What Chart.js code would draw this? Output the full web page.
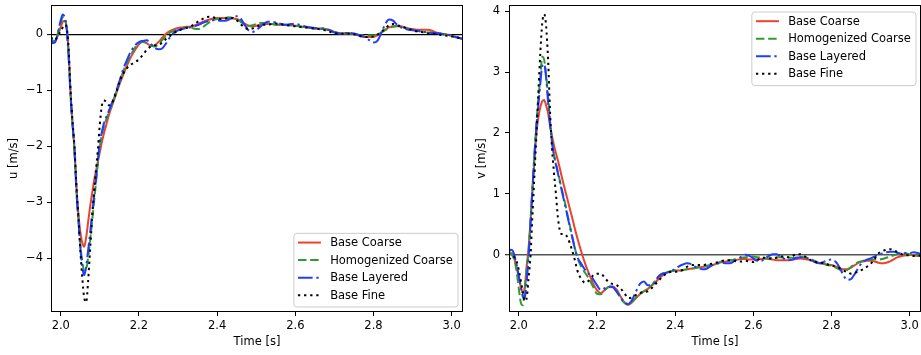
<!DOCTYPE html>
<html><head><meta charset="utf-8">
<script src="https://cdn.jsdelivr.net/npm/chart.js@4.4.1/dist/chart.umd.min.js"></script>
<style>
html,body{margin:0;padding:0;background:#fff;}
#wrap{position:relative;width:921px;height:355px;overflow:hidden;background:#fff;}
canvas{position:absolute;top:0;}
</style></head><body>
<div id="wrap">
<canvas id="cu" width="470" height="355" style="left:0px"></canvas>
<canvas id="cv" width="451" height="355" style="left:470px"></canvas>
</div>
<script>
// ---------- data ----------
const TIME = [
1.975,1.98,1.985,1.99,1.995,2.0,2.005,2.01,2.015,2.02,
2.025,2.03,2.035,2.04,2.045,2.05,2.055,2.06,2.065,2.07,
2.075,2.08,2.085,2.09,2.095,2.1,2.105,2.11,2.115,2.12,
2.125,2.13,2.135,2.14,2.145,2.15,
2.16,2.17,2.18,2.19,2.2,2.21,2.22,2.23,2.24,2.25,
2.26,2.27,2.28,2.29,2.3,2.31,2.32,2.33,2.34,2.35,
2.36,2.37,2.38,2.39,2.4,2.41,2.42,2.43,2.44,2.45,
2.46,2.47,2.48,2.49,2.5,2.51,2.52,2.53,2.54,2.55,
2.56,2.57,2.58,2.59,2.6,2.61,2.62,2.63,2.64,2.65,
2.66,2.67,2.68,2.69,2.7,2.71,2.72,2.73,2.74,2.75,
2.76,2.77,2.78,2.79,2.8,2.81,2.82,2.83,2.84,2.85,
2.86,2.87,2.88,2.89,2.9,2.91,2.92,2.93,2.94,2.95,
2.96,2.97,2.98,2.99,3.0,3.01,3.02,3.03];

const SERIES_LABELS = ['Base Coarse','Homogenized Coarse','Base Layered','Base Fine'];

// u [m/s]
const U_BASE_COARSE = [
-0.05,-0.12,-0.13,-0.07,0.03,0.13,0.22,0.24,0.12,-0.30,
-1.05,-1.60,-2.05,-2.70,-3.20,-3.52,-3.72,-3.79,-3.62,-3.35,
-3.08,-2.85,-2.62,-2.45,-2.27,-2.10,-1.93,-1.78,-1.65,-1.52,
-1.40,-1.30,-1.20,-1.10,-1.00,-0.90,
-0.72,-0.55,-0.40,-0.28,-0.18,-0.13,-0.16,-0.21,-0.20,-0.14,
-0.06,0.01,0.06,0.09,0.11,0.12,0.13,0.13,0.15,0.18,
0.21,0.24,0.26,0.28,0.29,0.29,0.29,0.28,0.28,0.27,
0.24,0.19,0.15,0.14,0.15,0.17,0.18,0.18,0.18,0.17,
0.17,0.17,0.16,0.16,0.15,0.14,0.13,0.12,0.11,0.10,
0.10,0.10,0.09,0.07,0.04,0.02,0.01,0.01,0.01,0.00,
-0.02,-0.04,-0.05,-0.05,-0.05,-0.02,0.03,0.08,0.12,0.14,
0.15,0.14,0.12,0.10,0.09,0.08,0.08,0.08,0.08,0.06,
0.03,0.01,0.00,-0.01,-0.03,-0.05,-0.07,-0.09];
const U_HOMOG_COARSE = [
-0.05,-0.13,-0.12,-0.04,0.08,0.20,0.30,0.28,0.12,-0.35,
-1.05,-1.60,-2.05,-2.78,-3.28,-3.75,-4.05,-4.22,-4.20,-3.98,
-3.68,-3.35,-3.00,-2.65,-2.30,-2.00,-1.80,-1.66,-1.55,-1.45,
-1.36,-1.27,-1.17,-1.07,-0.97,-0.87,
-0.66,-0.50,-0.36,-0.24,-0.16,-0.14,-0.16,-0.20,-0.22,-0.18,
-0.10,-0.03,0.03,0.06,0.08,0.10,0.12,0.12,0.10,0.09,
0.11,0.16,0.21,0.25,0.27,0.28,0.29,0.30,0.29,0.27,
0.22,0.17,0.15,0.16,0.18,0.20,0.20,0.19,0.18,0.17,
0.17,0.17,0.17,0.16,0.15,0.14,0.13,0.12,0.11,0.10,
0.09,0.09,0.08,0.06,0.04,0.02,0.01,0.01,0.01,0.00,
-0.01,-0.02,-0.03,-0.02,-0.02,0.00,0.03,0.07,0.11,0.13,
0.14,0.13,0.11,0.09,0.07,0.06,0.05,0.04,0.03,0.03,
0.02,0.01,0.00,-0.01,-0.03,-0.05,-0.07,-0.08];
const U_BASE_LAYERED = [
-0.08,-0.16,-0.15,-0.05,0.10,0.25,0.35,0.30,0.10,-0.40,
-1.10,-1.60,-2.05,-2.80,-3.30,-3.80,-4.15,-4.30,-4.15,-3.85,
-3.55,-3.22,-2.90,-2.60,-2.25,-1.92,-1.75,-1.60,-1.50,-1.42,
-1.33,-1.24,-1.15,-1.05,-0.95,-0.84,
-0.62,-0.45,-0.30,-0.20,-0.14,-0.12,-0.11,-0.17,-0.24,-0.27,
-0.25,-0.16,-0.05,0.03,0.07,0.09,0.11,0.12,0.14,0.16,
0.19,0.22,0.24,0.25,0.25,0.24,0.24,0.26,0.30,0.32,
0.28,0.17,0.07,0.04,0.07,0.13,0.19,0.22,0.22,0.21,
0.19,0.17,0.17,0.18,0.18,0.17,0.15,0.13,0.12,0.11,
0.10,0.10,0.09,0.06,0.03,0.01,0.01,0.02,0.02,0.01,
-0.01,-0.03,-0.06,-0.11,-0.15,-0.12,0.02,0.18,0.26,0.24,
0.17,0.12,0.10,0.08,0.07,0.06,0.05,0.04,0.03,0.02,
0.02,0.01,0.00,-0.01,-0.03,-0.05,-0.07,-0.09];
const U_BASE_FINE = [
-0.05,-0.10,-0.10,-0.06,0.00,0.06,0.12,0.17,0.12,-0.25,
-1.00,-1.55,-2.00,-2.70,-3.25,-3.85,-4.35,-4.70,-4.78,-4.40,
-3.85,-3.30,-2.82,-2.42,-2.05,-1.60,-1.28,-1.18,-1.20,-1.25,
-1.27,-1.24,-1.17,-1.07,-0.97,-0.85,
-0.70,-0.60,-0.54,-0.50,-0.45,-0.37,-0.28,-0.22,-0.20,-0.19,
-0.15,-0.08,-0.03,0.02,0.06,0.09,0.11,0.13,0.17,0.22,
0.26,0.30,0.31,0.30,0.28,0.27,0.28,0.29,0.29,0.25,
0.18,0.12,0.09,0.10,0.13,0.16,0.17,0.17,0.18,0.19,
0.18,0.17,0.16,0.15,0.14,0.13,0.12,0.12,0.11,0.10,
0.09,0.08,0.06,0.04,0.02,0.01,0.01,0.01,0.01,0.00,
-0.02,-0.04,-0.05,-0.05,-0.04,-0.01,0.04,0.10,0.16,0.18,
0.16,0.14,0.12,0.10,0.07,0.05,0.04,0.03,0.01,0.01,
0.00,-0.01,-0.02,-0.03,-0.04,-0.05,-0.07,-0.09];

// v [m/s]
const V_BASE_COARSE = [
0.02,0.03,0.00,-0.10,-0.22,-0.38,-0.52,-0.62,-0.55,-0.20,
0.10,0.55,1.05,1.55,1.98,2.25,2.42,2.52,2.54,2.45,
2.32,2.12,1.95,1.80,1.67,1.55,1.42,1.28,1.15,1.02,
0.90,0.77,0.65,0.52,0.39,0.27,
0.05,-0.15,-0.32,-0.47,-0.58,-0.63,-0.58,-0.53,-0.52,-0.57,
-0.68,-0.78,-0.82,-0.78,-0.71,-0.65,-0.60,-0.56,-0.51,-0.45,
-0.38,-0.33,-0.29,-0.27,-0.26,-0.26,-0.25,-0.24,-0.23,-0.22,
-0.21,-0.20,-0.19,-0.18,-0.16,-0.14,-0.12,-0.11,-0.10,-0.09,
-0.08,-0.07,-0.07,-0.08,-0.08,-0.08,-0.07,-0.06,-0.07,-0.08,
-0.09,-0.09,-0.09,-0.09,-0.08,-0.07,-0.06,-0.07,-0.08,-0.10,
-0.12,-0.14,-0.15,-0.16,-0.17,-0.19,-0.22,-0.24,-0.24,-0.21,
-0.17,-0.13,-0.11,-0.10,-0.10,-0.11,-0.13,-0.14,-0.13,-0.11,
-0.07,-0.04,-0.02,-0.01,0.00,-0.01,-0.02,-0.01];
const V_HOMOG_COARSE = [
0.00,0.02,-0.03,-0.12,-0.30,-0.55,-0.78,-0.83,-0.60,-0.25,
0.05,0.55,1.10,1.65,2.15,2.55,2.90,3.25,3.20,2.95,
2.60,2.20,1.88,1.65,1.50,1.36,1.22,1.08,0.94,0.80,
0.65,0.50,0.35,0.20,0.07,-0.05,
-0.20,-0.30,-0.40,-0.52,-0.64,-0.65,-0.58,-0.53,-0.54,-0.60,
-0.70,-0.79,-0.82,-0.77,-0.70,-0.64,-0.60,-0.56,-0.50,-0.42,
-0.34,-0.30,-0.28,-0.27,-0.26,-0.26,-0.25,-0.24,-0.23,-0.22,
-0.20,-0.19,-0.18,-0.17,-0.15,-0.13,-0.11,-0.10,-0.09,-0.08,
-0.06,-0.05,-0.04,-0.03,-0.03,-0.04,-0.05,-0.06,-0.06,-0.05,
-0.04,-0.04,-0.05,-0.05,-0.05,-0.05,-0.04,-0.04,-0.06,-0.08,
-0.11,-0.14,-0.15,-0.17,-0.18,-0.21,-0.24,-0.26,-0.25,-0.20,
-0.15,-0.12,-0.10,-0.08,-0.08,-0.08,-0.08,-0.07,-0.05,-0.03,
-0.01,0.01,0.02,0.02,0.01,0.00,-0.01,-0.01];
const V_BASE_LAYERED = [
0.05,0.08,0.06,-0.04,-0.18,-0.35,-0.52,-0.68,-0.72,-0.45,
-0.05,0.50,1.10,1.62,2.10,2.45,2.80,3.10,3.13,2.90,
2.50,2.15,1.85,1.63,1.48,1.34,1.20,1.05,0.91,0.77,
0.62,0.48,0.34,0.20,0.06,-0.04,
-0.15,-0.25,-0.32,-0.40,-0.50,-0.58,-0.55,-0.52,-0.53,-0.60,
-0.70,-0.78,-0.81,-0.74,-0.60,-0.48,-0.44,-0.50,-0.50,-0.42,
-0.34,-0.31,-0.29,-0.27,-0.23,-0.19,-0.16,-0.14,-0.15,-0.19,
-0.22,-0.24,-0.23,-0.19,-0.16,-0.14,-0.13,-0.14,-0.14,-0.11,
-0.07,-0.03,0.00,-0.02,-0.06,-0.10,-0.10,-0.06,-0.02,0.01,
0.01,-0.03,-0.07,-0.09,-0.08,-0.05,-0.04,-0.04,-0.06,-0.09,
-0.13,-0.14,-0.12,-0.09,-0.08,-0.11,-0.20,-0.33,-0.41,-0.40,
-0.31,-0.20,-0.12,-0.08,-0.06,-0.03,0.00,0.02,0.04,0.05,
0.05,0.03,0.02,0.03,0.03,0.04,0.03,0.01];
const V_BASE_FINE = [
-0.08,-0.05,-0.02,-0.05,-0.12,-0.25,-0.42,-0.60,-0.76,-0.72,
-0.38,-0.02,0.65,1.30,1.95,2.65,3.30,3.80,3.95,3.75,
3.20,2.35,1.75,1.35,1.00,0.62,0.40,0.34,0.34,0.33,
0.28,0.20,0.10,0.00,-0.13,-0.26,
-0.40,-0.46,-0.42,-0.34,-0.31,-0.31,-0.38,-0.45,-0.48,-0.50,
-0.55,-0.63,-0.71,-0.70,-0.66,-0.63,-0.61,-0.60,-0.55,-0.48,
-0.41,-0.35,-0.30,-0.28,-0.28,-0.27,-0.25,-0.20,-0.17,-0.17,
-0.17,-0.17,-0.16,-0.15,-0.14,-0.12,-0.10,-0.09,-0.09,-0.10,
-0.11,-0.11,-0.10,-0.11,-0.12,-0.09,-0.05,-0.05,-0.06,-0.06,
-0.05,-0.03,-0.03,-0.04,-0.02,0.01,0.01,-0.02,-0.06,-0.10,
-0.12,-0.13,-0.14,-0.16,-0.17,-0.20,-0.22,-0.26,-0.28,-0.31,
-0.30,-0.27,-0.24,-0.20,-0.15,-0.07,0.02,0.06,0.08,0.09,
0.07,0.04,0.01,-0.01,-0.01,-0.02,-0.02,-0.01];

const X_TICKS = [2.0, 2.2, 2.4, 2.6, 2.8, 3.0];
const U_TICKS = [-4, -3, -2, -1, 0];
const V_TICKS = [0, 1, 2, 3, 4];

// ---------- styling ----------
const X_LIM = [1.975, 3.029];
const U_LIM = [-4.955, 0.52];
const V_LIM = [-0.94, 4.1];
const FS = 11.5;
const FAMILY = "'DejaVu Sans', sans-serif";
const FONT = {family: FAMILY, size: FS, lineHeight: 1.2};
const STYLES = [
  {color: '#eb412d', dash: []},
  {color: '#339a33', dash: [8.5, 3.7]},
  {color: '#1f3cff', dash: [14.7, 3.7, 2.3, 3.7]},
  {color: '#000000', dash: [2.3, 3.8]}
];

[U_BASE_COARSE,U_HOMOG_COARSE,U_BASE_LAYERED,U_BASE_FINE,V_BASE_COARSE,V_HOMOG_COARSE,V_BASE_LAYERED,V_BASE_FINE].forEach((a,i)=>{
  if (a.length !== TIME.length) throw new Error('series ' + i + ' length ' + a.length + ' vs ' + TIME.length);
});

const mplPlugin = {
  id: 'mpl',
  afterDatasetsDraw(chart) {
    const ctx = chart.ctx, a = chart.chartArea;
    const opts = chart.options.plugins.mpl || {};
    ctx.save();
    // frame (spines)
    ctx.strokeStyle = '#000'; ctx.lineWidth = 1; ctx.setLineDash([]);
    const L = Math.round(a.left) + 0.5, R = Math.round(a.right) - 0.5;
    const T = Math.round(a.top) + 0.5, B = Math.round(a.bottom) - 0.5;
    ctx.strokeRect(L, T, R - L, B - T);
    // legend
    const ds = chart.data.datasets;
    ctx.font = FS + 'px ' + FAMILY;
    const tw = Math.max(...ds.map(d => ctx.measureText(d.label).width));
    const pad = 0.4 * FS, hl = 2 * FS, tp = 0.8 * FS, rowH = 11.8, sp = 0.5 * FS;
    const W = 2 * pad + hl + tp + tw;
    const H = 2 * pad + ds.length * rowH + (ds.length - 1) * sp;
    const x = a.right - 5.5 - W;
    const y = opts.loc === 'upper right' ? a.top + 6.5 : a.bottom - 5.5 - H;
    ctx.beginPath();
    ctx.roundRect(x + 0.5, y + 0.5, W, H, 3);
    ctx.fillStyle = 'rgba(255,255,255,0.8)';
    ctx.fill();
    ctx.strokeStyle = '#cccccc'; ctx.lineWidth = 1;
    ctx.stroke();
    ds.forEach((d, i) => {
      const cy = y + pad + rowH / 2 - 0.8 + i * (rowH + sp);
      ctx.beginPath();
      ctx.setLineDash(d.borderDash || []);
      ctx.lineWidth = d.borderWidth;
      ctx.strokeStyle = d.borderColor;
      ctx.moveTo(x + pad, cy);
      ctx.lineTo(x + pad + hl, cy);
      ctx.stroke();
      ctx.setLineDash([]);
      ctx.fillStyle = '#000';
      ctx.textBaseline = 'middle';
      ctx.textAlign = 'left';
      ctx.fillText(d.label, x + pad + hl + tp, cy + 0.5);
    });
    ctx.restore();
  }
};

function minusFmt(v) { return v < 0 ? '\u2212' + Math.abs(v) : String(v); }

function makeChart(id, series, ylim, yticks, ytitle, loc, dims) {
  const datasets = series.map((arr, i) => ({
    label: SERIES_LABELS[i],
    data: TIME.map((t, k) => ({x: t, y: arr[k]})),
    borderColor: STYLES[i].color,
    borderDash: STYLES[i].dash,
    borderWidth: 2,
    pointRadius: 0,
    fill: false,
    cubicInterpolationMode: 'monotone',
    order: 4 - i
  }));
  return new Chart(document.getElementById(id), {
    type: 'line',
    data: {datasets},
    options: {
      responsive: false, animation: false, devicePixelRatio: 1,
      layout: {padding: {left: 0, top: dims.top, right: dims.right, bottom: 0}},
      plugins: {legend: {display: false}, tooltip: {enabled: false}, mpl: {loc}},
      scales: {
        x: {
          type: 'linear', min: X_LIM[0], max: X_LIM[1],
          afterBuildTicks: s => { s.ticks = X_TICKS.map(v => ({value: v})); },
          afterFit: s => { s.height = dims.xH; s.paddingLeft = 0; s.paddingRight = 0; s.paddingTop = 0; s.paddingBottom = 0; },
          ticks: {callback: v => Number(v).toFixed(1), font: FONT, color: '#000', padding: 3, maxRotation: 0, autoSkip: false},
          grid: {drawOnChartArea: false, drawTicks: true, tickLength: 4, tickColor: '#000', tickWidth: 1},
          border: {display: false},
          title: {display: true, text: 'Time [s]', font: FONT, color: '#000', padding: {top: 0, bottom: 6.4}}
        },
        y: {
          type: 'linear', min: ylim[0], max: ylim[1],
          afterBuildTicks: s => { s.ticks = yticks.map(v => ({value: v})); },
          afterFit: s => { s.width = dims.yW; s.paddingLeft = 0; s.paddingRight = 0; s.paddingTop = 0; s.paddingBottom = 0; },
          ticks: {callback: v => minusFmt(v), font: FONT, color: '#000', padding: dims.yPad, autoSkip: false},
          grid: {
            drawOnChartArea: true, drawTicks: true, tickLength: 4, tickColor: '#000', tickWidth: 1,
            color: c => (c.tick && c.tick.value === 0) ? dims.zeroColor : 'rgba(0,0,0,0)',
            lineWidth: c => (c.tick && c.tick.value === 0) ? dims.zeroWidth : 1
          },
          border: {display: false},
          title: {display: true, text: ytitle, font: FONT, color: '#000', padding: {top: dims.titlePad, bottom: 0}}
        }
      }
    },
    plugins: [mplPlugin]
  });
}

makeChart('cu', [U_BASE_COARSE, U_HOMOG_COARSE, U_BASE_LAYERED, U_BASE_FINE], U_LIM, U_TICKS, 'u [m/s]', 'lower right',
  {top: 5, right: 7, xH: 43, yW: 51, yPad: 4, titlePad: 7.1, zeroColor: '#000', zeroWidth: 1.2});
makeChart('cv', [V_BASE_COARSE, V_HOMOG_COARSE, V_BASE_LAYERED, V_BASE_FINE], V_LIM, V_TICKS, 'v [m/s]', 'upper right',
  {top: 5, right: 0, xH: 43, yW: 39, yPad: 5, titlePad: 5.1, zeroColor: '#555', zeroWidth: 1.5});
</script>
</body></html>
